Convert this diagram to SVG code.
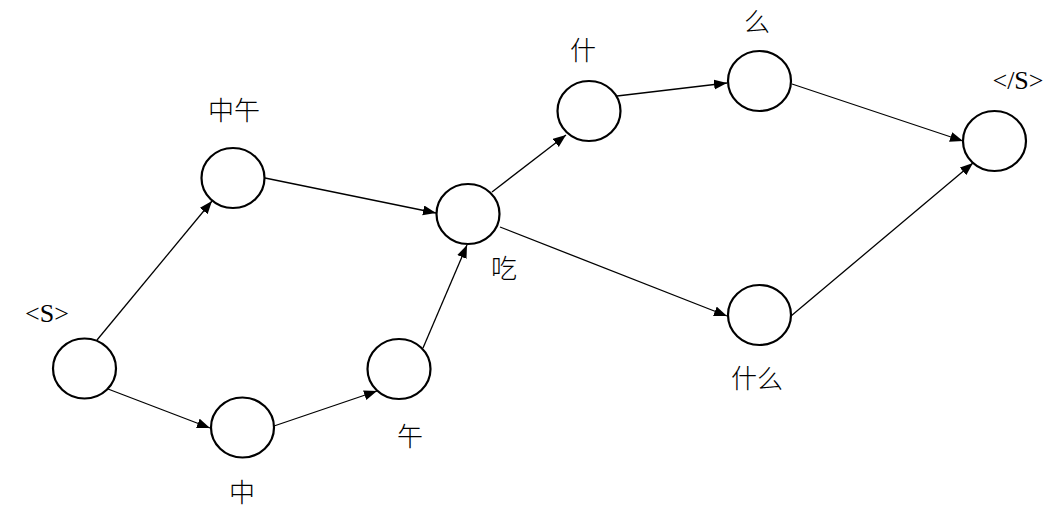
<svg xmlns="http://www.w3.org/2000/svg" width="1064" height="516" viewBox="0 0 1064 516">
<style>
.node ellipse{fill:#fff;stroke:#000;stroke-width:2.2}
.lbl{font-family:"Liberation Serif","Noto Sans CJK SC",serif;font-size:26px;font-weight:300;fill:#000;text-anchor:middle}
.edge{stroke:#000;stroke-width:1.3;fill:none;marker-end:url(#arr)}
</style>
<defs>
<marker id="arr" markerUnits="userSpaceOnUse" markerWidth="15" markerHeight="11" refX="13" refY="5" orient="auto">
<path d="M0,0 L13,5 L0,10 z" fill="#000"/>
</marker>
</defs>
<rect width="1064" height="516" fill="#fff"/>
<g id="connectors">
<line class="edge" x1="97" y1="340" x2="212" y2="201"/>
<line class="edge" x1="108" y1="389" x2="210" y2="428"/>
<line class="edge" x1="265" y1="178" x2="436" y2="213"/>
<line class="edge" x1="274" y1="426" x2="377" y2="391"/>
<line class="edge" x1="423" y1="348" x2="467" y2="245"/>
<line class="edge" x1="492" y1="192" x2="566" y2="135"/>
<line class="edge" x1="617" y1="96" x2="727" y2="83"/>
<line class="edge" x1="500" y1="227" x2="727" y2="316"/>
<line class="edge" x1="792" y1="84" x2="963" y2="141"/>
<line class="edge" x1="791" y1="316" x2="973" y2="163"/>
</g>
<g id="n_s" class="node"><ellipse cx="84.5" cy="368.5" rx="31.5" ry="30"/><text class="lbl" x="47" y="322">&lt;S&gt;</text></g>
<g id="n_zhongwu" class="node"><ellipse cx="233" cy="178" rx="31.5" ry="30"/><text class="lbl" x="234" y="120">中午</text></g>
<g id="n_zhong" class="node"><ellipse cx="242.5" cy="427.5" rx="31.5" ry="30"/><text class="lbl" x="242" y="502">中</text></g>
<g id="n_wu" class="node"><ellipse cx="399" cy="369" rx="31.5" ry="30"/><text class="lbl" x="410" y="446">午</text></g>
<g id="n_chi" class="node"><ellipse cx="468" cy="214" rx="31.5" ry="30"/><text class="lbl" x="504" y="278">吃</text></g>
<g id="n_shen" class="node"><ellipse cx="589" cy="111" rx="31.5" ry="30"/><text class="lbl" x="583" y="60">什</text></g>
<g id="n_me" class="node"><ellipse cx="759.5" cy="81" rx="31.5" ry="30"/><text class="lbl" x="757" y="31">么</text></g>
<g id="n_shenme" class="node"><ellipse cx="759.5" cy="315" rx="31.5" ry="30"/><text class="lbl" x="757" y="388">什么</text></g>
<g id="n_end" class="node"><ellipse cx="994.5" cy="141" rx="31.5" ry="30"/><text class="lbl" x="1018" y="89">&lt;/S&gt;</text></g>
</svg>
